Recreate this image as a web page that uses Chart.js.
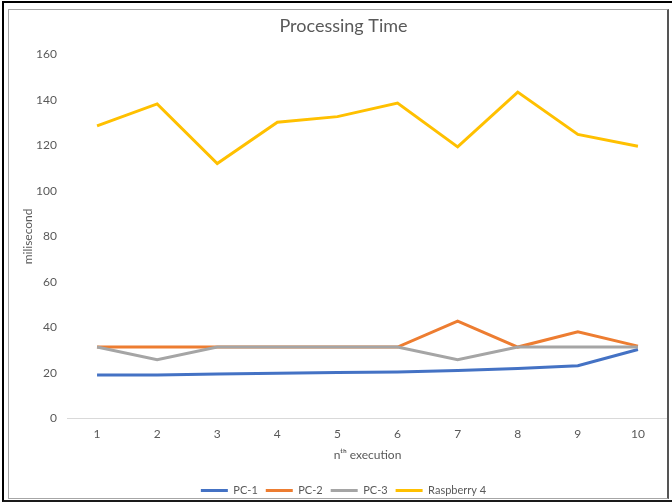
<!DOCTYPE html>
<html>
<head>
<meta charset="utf-8">
<script src="https://cdn.jsdelivr.net/npm/chart.js@4"></script>
<style>
  html, body { margin: 0; padding: 0; background: #fff; overflow: hidden; width: 672px; height: 502px; }
  #wrap { position: absolute; left: 10px; top: 10px; width: 666px; height: 496px; }
  .outer { position: absolute; left: 2px; top: 1px; width: 670px; height: 497px;
           border-left: 2px solid #000; border-top: 2px solid #000; border-bottom: 2px solid #1a1a1a; pointer-events: none; }
  .inner { position: absolute; left: 8px; top: 9px; width: 658px; height: 488px;
           border-left: 1px solid #a6a6a6; border-top: 1px solid #a6a6a6; border-bottom: 1px solid #a6a6a6;
           border-right: 2px solid #555; pointer-events: none; }
</style>
</head>
<body>
<div id="wrap"><canvas id="chart"></canvas></div>
<div class="outer"></div>
<div class="inner"></div>
<script>
// execution runs 1..10
const runs = ['1', '2', '3', '4', '5', '6', '7', '8', '9', '10'];

// processing time per run, milliseconds
const pc1 = [19.0, 19.0, 19.5, 19.8, 20.1, 20.3, 21.0, 21.9, 23.1, 30.2];
const pc2 = [31.3, 31.3, 31.3, 31.3, 31.3, 31.3, 42.7, 31.3, 38.0, 31.7];
const pc3 = [31.3, 25.7, 31.3, 31.3, 31.3, 31.3, 25.7, 31.3, 31.3, 31.3];
const rpi4 = [128.6, 138.3, 112.1, 130.2, 132.7, 138.7, 119.4, 143.5, 124.9, 119.7];

const yTicks = [0, 20, 40, 60, 80, 100, 120, 140, 160];

const FONT = "Lato, 'Open Sans', sans-serif";
const GREY = '#595959';

function series(label, data, color, order) {
  return {
    label, data, order,
    borderColor: color, backgroundColor: color,
    borderWidth: 3, pointRadius: 0, tension: 0, fill: false
  };
}

new Chart(document.getElementById('chart'), {
  type: 'line',
  data: {
    labels: runs,
    datasets: [
      // later series paint over earlier ones
      series('PC-1', pc1, '#4472C4', 4),
      series('PC-2', pc2, '#ED7D31', 3),
      series('PC-3', pc3, '#A5A5A5', 2),
      series('Raspberry 4', rpi4, '#FFC000', 1)
    ]
  },
  options: {
    responsive: true,
    maintainAspectRatio: false,
    animation: false,
    layout: { padding: { left: 9, right: 8, top: 0, bottom: 0 } },
    plugins: {
      title: {
        display: true, text: 'Processing Time', color: GREY,
        font: { family: FONT, size: 18, weight: 'normal' },
        padding: { top: 5, bottom: 18 }
      },
      legend: {
        position: 'bottom',
        labels: {
          color: GREY, boxWidth: 27, boxHeight: 3, padding: 8,
          font: { family: FONT, size: 11 },
          sort: (a, b) => a.datasetIndex - b.datasetIndex,
          generateLabels: chart => Chart.defaults.plugins.legend.labels.generateLabels(chart)
            .map(l => Object.assign(l, { lineWidth: 0 }))
        }
      },
      tooltip: { enabled: false }
    },
    scales: {
      x: {
        offset: true,
        grid: { display: false, drawTicks: false },
        border: { color: '#d9d9d9', width: 1 },
        ticks: { color: GREY, font: { family: FONT, size: 12 }, padding: 9 },
        title: {
          display: true, text: 'n\u1D57\u02B0 execution', color: GREY,
          font: { family: FONT, size: 12 }, padding: { top: 5, bottom: 15 }
        },
        // tighten the gap between tick labels and the axis title
        afterFit: s => { s.height -= 8; }
      },
      y: {
        min: 0, max: 160,
        afterBuildTicks: s => { s.ticks = yTicks.map(v => ({ value: v })); },
        grid: { display: false, drawTicks: false },
        border: { display: false },
        ticks: { color: GREY, font: { family: FONT, size: 12 }, padding: 10 },
        title: {
          display: true, text: 'milisecond', color: GREY,
          font: { family: FONT, size: 12 }, padding: 2
        },
        afterFit: s => { s.width = 48; }
      }
    }
  }
});
</script>
</body>
</html>
